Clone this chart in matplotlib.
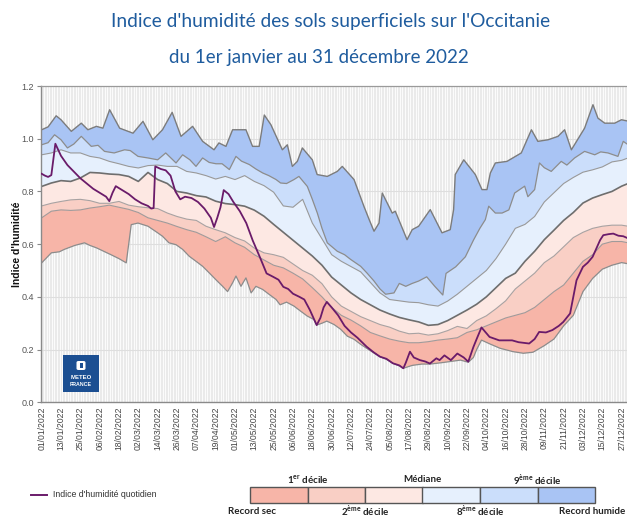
import numpy as np
import matplotlib
matplotlib.use("Agg")
import matplotlib.pyplot as plt
from matplotlib.patches import Rectangle, FancyBboxPatch
from matplotlib.lines import Line2D

plt.rcParams['mathtext.fontset'] = 'custom'
plt.rcParams['mathtext.rm'] = 'Lato'
plt.rcParams['mathtext.bf'] = 'Lato:bold'

# ---------------- data (day of year, 0 = 01/01/2022) ----------------
grid_days = list(range(0, 361, 6)) + [364]

median = [0.819, 0.832, 0.841, 0.838, 0.851, 0.872, 0.870, 0.866, 0.864, 0.857,
          0.838, 0.872, 0.845, 0.830, 0.800, 0.794, 0.784, 0.779, 0.763, 0.754,
          0.750, 0.744, 0.729, 0.706, 0.675, 0.645, 0.615, 0.585, 0.555, 0.520,
          0.475, 0.445, 0.415, 0.390, 0.370, 0.350, 0.335, 0.322, 0.313, 0.305,
          0.292, 0.295, 0.310, 0.330, 0.350, 0.372, 0.400, 0.435, 0.470, 0.490,
          0.535, 0.573, 0.617, 0.653, 0.690, 0.720, 0.756, 0.775, 0.788, 0.800,
          0.820, 0.830]

decile8 = [0.939, 0.946, 0.958, 0.946, 0.946, 0.933, 0.927, 0.914, 0.905, 0.895,
           0.889, 0.898, 0.900, 0.895, 0.895, 0.876, 0.870, 0.860, 0.847, 0.857,
           0.845, 0.860, 0.838, 0.822, 0.797, 0.745, 0.740, 0.770, 0.680, 0.620,
           0.560, 0.535, 0.515, 0.495, 0.455, 0.415, 0.390, 0.385, 0.380, 0.378,
           0.370, 0.365, 0.384, 0.410, 0.440, 0.470, 0.500, 0.545, 0.600, 0.660,
           0.675, 0.705, 0.760, 0.795, 0.830, 0.853, 0.873, 0.882, 0.893, 0.912,
           0.918, 0.927]

decile2 = [0.745, 0.755, 0.762, 0.768, 0.770, 0.765, 0.755, 0.755, 0.762, 0.748,
           0.742, 0.738, 0.735, 0.718, 0.705, 0.695, 0.690, 0.668, 0.655, 0.643,
           0.625, 0.612, 0.585, 0.567, 0.560, 0.550, 0.525, 0.500, 0.482, 0.450,
           0.400, 0.365, 0.345, 0.325, 0.310, 0.295, 0.285, 0.270, 0.260, 0.262,
           0.255, 0.260, 0.272, 0.288, 0.280, 0.310, 0.328, 0.355, 0.385, 0.430,
           0.460, 0.490, 0.530, 0.555, 0.590, 0.625, 0.645, 0.660, 0.668, 0.672,
           0.672, 0.668]

decile1 = [0.700, 0.725, 0.730, 0.728, 0.730, 0.737, 0.742, 0.748, 0.740, 0.732,
           0.720, 0.700, 0.690, 0.680, 0.667, 0.655, 0.645, 0.628, 0.610, 0.628,
           0.605, 0.588, 0.560, 0.540, 0.520, 0.510, 0.490, 0.468, 0.435, 0.400,
           0.360, 0.330, 0.312, 0.290, 0.265, 0.252, 0.240, 0.232, 0.226, 0.226,
           0.230, 0.236, 0.240, 0.245, 0.265, 0.275, 0.290, 0.305, 0.320, 0.330,
           0.340, 0.360, 0.390, 0.420, 0.445, 0.490, 0.535, 0.560, 0.600, 0.610,
           0.610, 0.605]

decile9_days = [0, 4, 8, 12, 16, 20, 24.6, 30.8, 35, 39, 45, 51.5, 55, 59.8, 66, 72, 77,
                83.4, 87.5, 92, 95.8, 99.9, 104, 108.2, 112, 116.5, 120.6, 124, 128.9,
                133, 137.2, 141, 145.5, 148.3, 152, 156.6, 159.7, 164.9, 168, 171.1,
                174, 177.3, 183.5, 188, 191.8, 198, 202, 206.3, 210, 213.5, 218.7, 222,
                226, 230, 234, 239, 244, 249, 251, 257, 263, 268, 272, 275.4, 277.5,
                281.6, 285.8, 290, 293.6, 299.8, 301.8, 306, 309, 312, 316.3, 322.5,
                326, 330.8, 337, 343.3, 347, 351.5, 357.7, 361, 364.5]
decile9 = [0.977, 0.985, 1.015, 0.996, 0.965, 0.980, 1.009, 0.971, 0.975, 0.952, 0.946,
           0.958, 0.955, 0.933, 0.927, 0.920, 0.946, 0.908, 0.939, 0.920, 0.895, 0.927,
           0.910, 0.905, 0.905, 0.883, 0.933, 0.915, 0.902, 0.885, 0.870, 0.860, 0.845,
           0.832, 0.830, 0.845, 0.857, 0.819, 0.770, 0.718, 0.660, 0.605, 0.573, 0.560,
           0.542, 0.516, 0.490, 0.460, 0.430, 0.410, 0.415, 0.451, 0.440, 0.451, 0.460,
           0.476, 0.440, 0.407, 0.489, 0.514, 0.552, 0.615, 0.660, 0.693, 0.744, 0.718,
           0.718, 0.730, 0.794, 0.820, 0.780, 0.807, 0.908, 0.890, 0.876, 0.914, 0.900,
           0.927, 0.952, 0.939, 0.950, 0.946, 0.933, 0.990, 0.975]

recmax_days = [0, 4, 9, 12, 18.4, 24.6, 28.7, 34, 38, 42.2, 48.4, 56.7, 62.9, 69, 75, 81,
               86.5, 93.7, 99.9, 107, 110, 114.4, 118.5, 126.8, 130.9, 135, 138.2, 142.3,
               149.4, 152.5, 155.6, 158.7, 161.8, 168, 171, 177.3, 183.5, 186.6, 193.9,
               200, 203.5, 206.3, 209.4, 211.4, 217.6, 219.5, 226.8, 230, 234, 241.2,
               248.5, 253.6, 255.7, 256.7, 262, 269.2, 273.3, 276.4, 278.5, 281.6, 288.8,
               297.7, 304, 308, 314.3, 320.5, 324.6, 328.8, 337, 342.2, 345.3, 349.5,
               355.7, 359.9, 364.5]
recmax = [1.034, 1.045, 1.087, 1.072, 1.028, 1.059, 1.034, 1.047, 1.040, 1.110, 1.040,
          1.021, 1.066, 0.996, 1.034, 1.100, 1.009, 1.047, 0.990, 0.958, 0.984, 0.971,
          1.034, 1.034, 0.971, 0.971, 1.090, 1.053, 0.958, 0.977, 0.895, 0.914, 0.965,
          0.920, 0.864, 0.857, 0.876, 0.895, 0.845, 0.744, 0.690, 0.649, 0.680, 0.794,
          0.718, 0.725, 0.617, 0.655, 0.668, 0.731, 0.643, 0.655, 0.731, 0.864, 0.920,
          0.864, 0.807, 0.807, 0.870, 0.908, 0.914, 0.946, 1.034, 0.990, 0.996, 1.009,
          1.034, 0.958, 1.040, 1.129, 1.078, 1.059, 1.059, 1.072, 1.066]

recmin_days = [0, 6, 11, 14, 20.5, 26.6, 30, 34, 43, 48, 52.5, 55.6, 59.8, 66, 72, 75, 79,
               83.4, 87.5, 91.6, 95.8, 99.9, 104, 108, 112.3, 115.4, 118.5, 120.6, 123.7,
               126.8, 130, 133, 137.2, 141.3, 145.5, 148, 152, 156.6, 160.7, 164.9, 169,
               170.7, 174, 177, 181.5, 185.6, 189.7, 193.9, 198, 201.7, 206, 210, 214,
               218, 222, 224.5, 230, 236, 241, 248, 254, 260, 264.8, 268, 270, 273, 278,
               284.5, 292.7, 299, 305, 312, 318, 324, 330, 336, 342, 348, 354, 360, 364.5]
recmin = [0.529, 0.567, 0.571, 0.580, 0.595, 0.605, 0.595, 0.586, 0.560, 0.545, 0.529,
          0.674, 0.680, 0.668, 0.643, 0.630, 0.605, 0.598, 0.580, 0.554, 0.535, 0.516,
          0.491, 0.466, 0.440, 0.420, 0.453, 0.479, 0.440, 0.472, 0.415, 0.440, 0.428,
          0.409, 0.390, 0.370, 0.380, 0.365, 0.346, 0.327, 0.314, 0.293, 0.300, 0.308,
          0.295, 0.277, 0.251, 0.239, 0.220, 0.205, 0.188, 0.173, 0.163, 0.148, 0.138,
          0.129, 0.140, 0.145, 0.145, 0.150, 0.155, 0.160, 0.152, 0.170, 0.200, 0.236,
          0.222, 0.205, 0.192, 0.186, 0.190, 0.215, 0.240, 0.290, 0.330, 0.420, 0.470,
          0.505, 0.520, 0.530, 0.525]

daily_days = [0, 2, 4, 6, 8.5, 12, 16, 20, 24, 28, 32, 36, 40, 42, 44, 46, 50, 54, 58, 62,
              66, 68, 69.5, 70.5, 74, 77, 80, 83, 86, 89, 93, 97, 101, 105, 107, 109, 111,
              113, 116, 119, 123, 127, 131, 135.5, 139.6, 143.7, 147, 150, 153, 156, 160,
              163, 166.5, 170.7, 173, 175, 177, 180, 184, 188, 192, 196, 201.7, 206, 210,
              214, 218, 222, 224.5, 226, 228.6, 231, 234.8, 238, 241, 245, 247, 250, 254,
              258, 262, 264.8, 268, 270, 273, 278, 284, 292, 296, 302.6, 306, 308.8, 313,
              317, 321, 323.8, 328, 330, 332, 336, 339, 342, 346.6, 348.6, 352, 354.8,
              358, 361, 364]
daily = [0.867, 0.860, 0.855, 0.862, 0.981, 0.935, 0.900, 0.875, 0.850, 0.830, 0.810,
         0.795, 0.780, 0.763, 0.795, 0.820, 0.805, 0.790, 0.770, 0.755, 0.745, 0.735,
         0.737, 0.895, 0.885, 0.880, 0.860, 0.800, 0.770, 0.780, 0.775, 0.760, 0.735,
         0.700, 0.665, 0.700, 0.740, 0.805, 0.790, 0.760, 0.725, 0.680, 0.614, 0.550,
         0.489, 0.476, 0.465, 0.438, 0.430, 0.412, 0.400, 0.390, 0.350, 0.293, 0.320,
         0.360, 0.381, 0.360, 0.330, 0.290, 0.265, 0.245, 0.211, 0.190, 0.173, 0.165,
         0.148, 0.140, 0.129, 0.150, 0.192, 0.170, 0.160, 0.155, 0.147, 0.167, 0.160,
         0.178, 0.160, 0.185, 0.170, 0.154, 0.210, 0.240, 0.284, 0.248, 0.235, 0.235,
         0.228, 0.223, 0.240, 0.267, 0.265, 0.274, 0.290, 0.305, 0.337, 0.400, 0.463,
         0.514, 0.530, 0.552, 0.615, 0.634, 0.638, 0.640, 0.632, 0.630, 0.622]

tick_days = list(range(0, 361, 12))
tick_labels = ["01/01/2022", "13/01/2022", "25/01/2022", "06/02/2022", "18/02/2022",
               "02/03/2022", "14/03/2022", "26/03/2022", "07/04/2022", "19/04/2022",
               "01/05/2022", "13/05/2022", "25/05/2022", "06/06/2022", "18/06/2022",
               "30/06/2022", "12/07/2022", "24/07/2022", "05/08/2022", "17/08/2022",
               "29/08/2022", "10/09/2022", "22/09/2022", "04/10/2022", "16/10/2022",
               "28/10/2022", "09/11/2022", "21/11/2022", "03/12/2022", "15/12/2022",
               "27/12/2022"]
y_ticks = [0.0, 0.2, 0.4, 0.6, 0.8, 1.0, 1.2]

# ---------------- style ----------------
band_colors = ["#f7b5a8", "#f9cfc5", "#fde8e3", "#e6f0fd", "#cbdefb", "#a9c4f4"]
line_col = "#8c8c8c"
median_col = "#6e6e6e"
purple = "#6a1b6a"
title_col = "#1f5c9e"

W, H = 627, 518
def fx(px): return px / W
def fy(py): return 1 - py / H

fig = plt.figure(figsize=(6.27, 5.18), dpi=100)
ax = fig.add_axes([fx(40.7), fy(402.3), 589.8 / W, 316.3 / H])
ax.set_xlim(-0.6, 365.5)
ax.set_ylim(0, 1.2)
ax.set_facecolor("#fbfbfb")

# daily vertical grid + horizontal grid
ax.vlines(np.arange(0, 366), 0, 1.2, color="#e3e3e3", lw=0.5, zorder=0)
for yv in y_ticks[1:-1]:
    ax.axhline(yv, color="#dedede", lw=0.8, zorder=0.5)

def band(xu, yu, xl, yl, color):
    xs = np.concatenate([np.asarray(xu, float), np.asarray(xl, float)[::-1]])
    ys = np.concatenate([np.asarray(yu, float), np.asarray(yl, float)[::-1]])
    ax.fill(xs, ys, color=color, lw=0, zorder=1)

band(grid_days, decile1, recmin_days, recmin, band_colors[0])
band(grid_days, decile2, grid_days, decile1, band_colors[1])
band(grid_days, median, grid_days, decile2, band_colors[2])
band(grid_days, decile8, grid_days, median, band_colors[3])
band(decile9_days, decile9, grid_days, decile8, band_colors[4])
band(recmax_days, recmax, decile9_days, decile9, band_colors[5])

ax.plot(recmin_days, recmin, color=line_col, lw=0.9, zorder=2)
ax.plot(grid_days, decile1, color="#a09a9a", lw=0.8, zorder=2)
ax.plot(grid_days, decile2, color="#a8a2a2", lw=0.8, zorder=2)
ax.plot(grid_days, median, color=median_col, lw=1.2, zorder=2)
ax.plot(grid_days, decile8, color="#999999", lw=0.8, zorder=2)
ax.plot(decile9_days, decile9, color=line_col, lw=0.9, zorder=2)
ax.plot(recmax_days, recmax, color="#7c7c7c", lw=1.0, zorder=2)
ax.plot(daily_days, daily, color=purple, lw=1.3, zorder=3)

ax.set_yticks(y_ticks)
ax.set_yticklabels(["%.1f" % v for v in y_ticks], family="Liberation Sans", fontsize=6.5, color="#555555")
ax.set_xticks(tick_days)
ax.set_xticklabels(tick_labels, rotation=90, fontsize=6.2, color="#444444",
                   family=["Liberation Sans Narrow", "Liberation Sans"])
ax.tick_params(axis="y", length=3, width=0.8, color="#888888", pad=2)
ax.tick_params(axis="x", length=0, pad=3)
for s in ["left", "bottom"]:
    ax.spines[s].set_color("#8a8a8a")
    ax.spines[s].set_linewidth(1.0)
ax.spines["top"].set_color("#9a9a9a")
ax.spines["top"].set_linewidth(0.9)
ax.spines["right"].set_visible(False)

fig.text(fx(17), fy(244), "Indice d'humidité", rotation=90, ha="center", va="center",
         fontsize=7.5, fontweight="bold", family="Liberation Sans", color="#111111")

# titles
fig.text(fx(331), fy(22), "Indice d'humidité des sols superficiels sur l'Occitanie",
         ha="center", va="center", fontsize=13.8, family="Lato", color=title_col)
fig.text(fx(319), fy(57), "du 1er janvier au 31 décembre 2022",
         ha="center", va="center", fontsize=13.5, family="Lato", color=title_col)

# Meteo-France logo
fig.add_artist(Rectangle((fx(63), fy(392)), 36 / W, 37 / H, transform=fig.transFigure,
                         facecolor="#1c4f92", edgecolor="none", zorder=5))
fig.add_artist(FancyBboxPatch((fx(76.5), fy(370)), 9 / W, 9 / H, transform=fig.transFigure,
                              boxstyle="round,pad=0,rounding_size=0.003",
                              facecolor="white", edgecolor="none", zorder=6))
fig.add_artist(Rectangle((fx(79.5), fy(368)), 3 / W, 5 / H, transform=fig.transFigure,
                         facecolor="#1c4f92", edgecolor="none", zorder=7))
fig.text(fx(81), fy(377.5), "METEO", ha="center", va="center", fontsize=4.3,
         fontweight="bold", color="white", family="Liberation Sans", zorder=8)
fig.text(fx(81), fy(384.5), "FRANCE", ha="center", va="center", fontsize=3.8,
         fontweight="bold", color="white", family="Liberation Sans", zorder=8)

# legend: daily line
fig.add_artist(Line2D([fx(31), fx(47)], [fy(494.5), fy(494.5)], color=purple, lw=1.4,
                      transform=fig.transFigure))
fig.text(fx(53), fy(494.5), "Indice d'humidité quotidien", ha="left", va="center",
         fontsize=6.3, family="Liberation Sans", color="#333333")

# legend: colour bar
box_w = 57.5
for i, c in enumerate(band_colors):
    fig.add_artist(Rectangle((fx(250 + i * box_w), fy(503)), box_w / W, 16 / H,
                             transform=fig.transFigure, facecolor=c,
                             edgecolor="#555555", lw=1.0))
leg_kw = dict(ha="center", va="center", fontsize=7, family="Lato", fontweight="bold",
              color="#222222")
fig.text(fx(307.5), fy(480), r"1$^{\mathbf{er}}$ décile", **leg_kw)
fig.text(fx(422.5), fy(480), "Médiane", **leg_kw)
fig.text(fx(537.5), fy(480), r"9$^{\mathbf{ème}}$ décile", **leg_kw)
fig.text(fx(252), fy(511), "Record sec", **leg_kw)
fig.text(fx(365), fy(511), r"2$^{\mathbf{ème}}$ décile", **leg_kw)
fig.text(fx(480), fy(511), r"8$^{\mathbf{ème}}$ décile", **leg_kw)
fig.text(fx(592), fy(511), "Record humide", **leg_kw)

fig.savefig("out.png", dpi=100)
